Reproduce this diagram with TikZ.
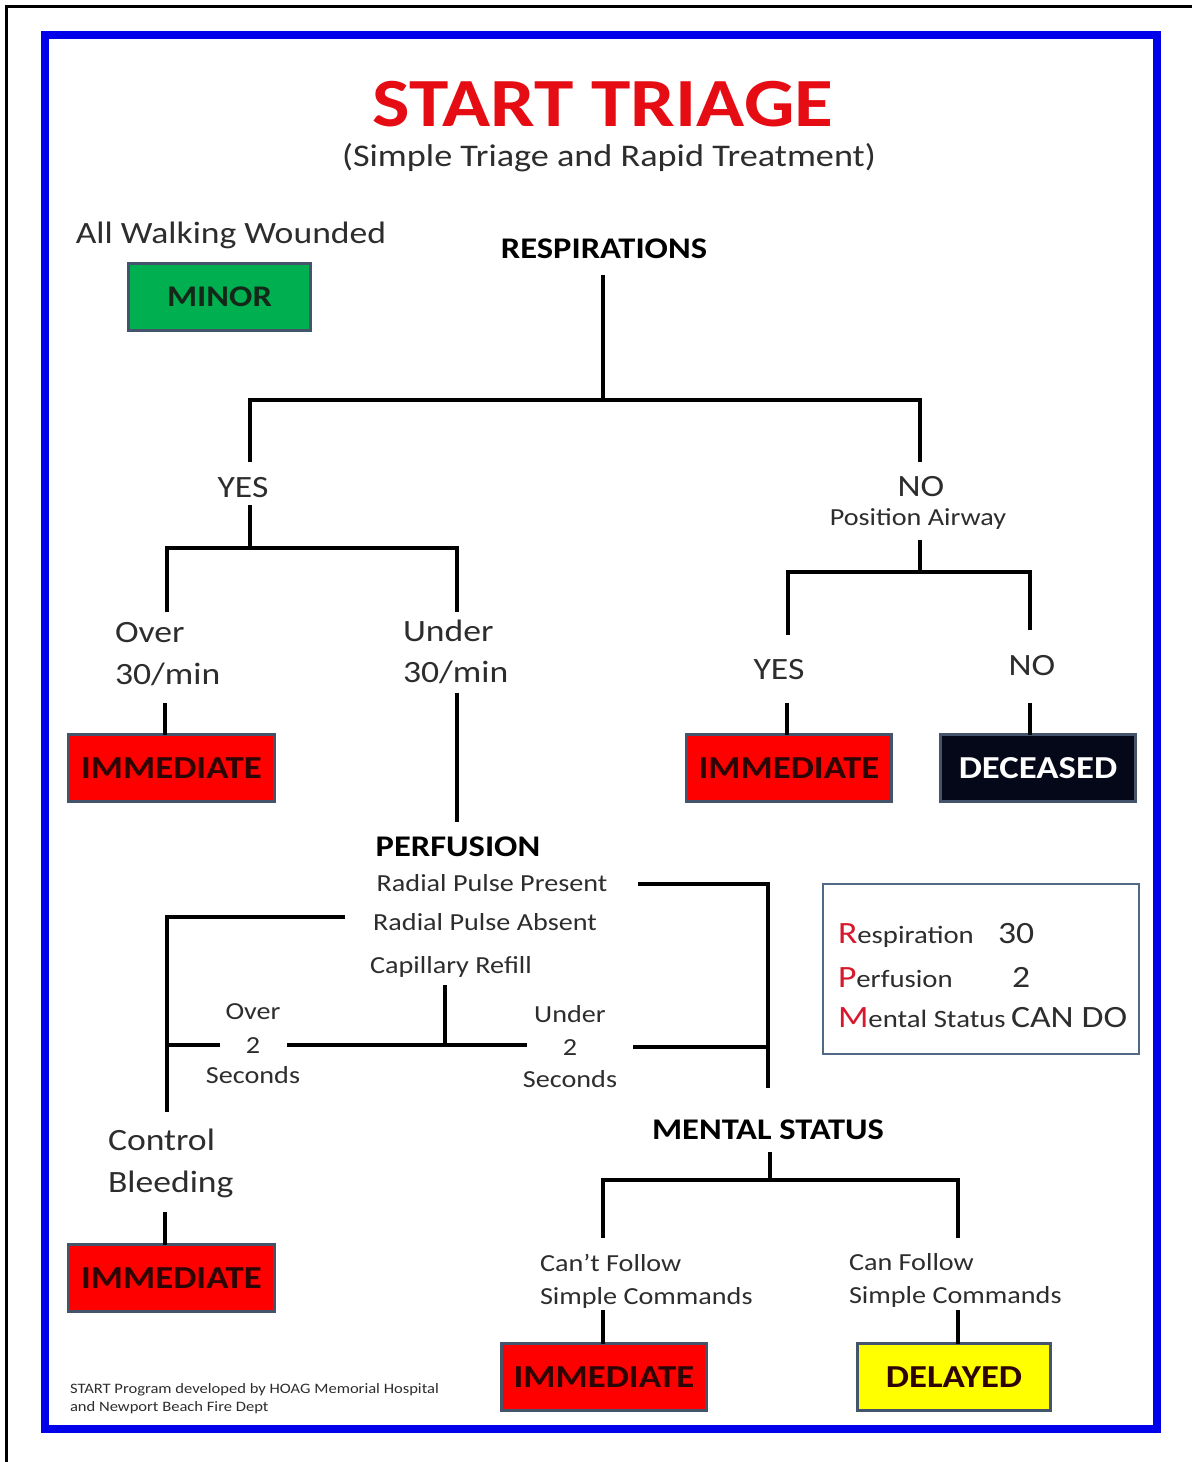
\documentclass[tikz,border=0pt]{standalone}
\usepackage{fontspec}
\setmainfont{Carlito}[FakeStretch=1.15]
\definecolor{frameblue}{RGB}{0,0,235}
\definecolor{titlered}{RGB}{230,12,20}
\definecolor{ink}{RGB}{45,45,45}
\definecolor{boxedge}{RGB}{68,84,106}
\definecolor{minorgreen}{RGB}{0,176,80}
\definecolor{minorink}{RGB}{20,40,25}
\definecolor{alertred}{RGB}{255,0,0}
\definecolor{tagink}{RGB}{45,5,5}
\definecolor{deadfill}{RGB}{5,8,25}
\definecolor{delayyellow}{RGB}{255,255,0}
\definecolor{rpmred}{RGB}{215,25,45}
\definecolor{rpmedge}{RGB}{80,105,135}
\begin{document}
\begin{tikzpicture}[x=1pt,y=-1pt,
  every node/.style={inner sep=0pt,outer sep=0pt},
  txt/.style={text=ink,font=\fontsize{31}{36}\selectfont,anchor=base},
  txtl/.style={txt,anchor=base west},
  small/.style={text=ink,font=\fontsize{24.5}{28}\selectfont,anchor=base},
  smalll/.style={small,anchor=base west},
  head/.style={text=black,font=\bfseries\fontsize{30}{36}\selectfont,anchor=base},
  tag/.style={draw=boxedge,line width=3pt,minimum width=#1,minimum height=67pt,
    font=\bfseries\fontsize{32}{40}\selectfont},
  branch/.style={line width=4.5pt,line join=miter},
  rpmtxt/.style={text=ink,font=\fontsize{25}{30}\selectfont,anchor=base west},
  rpmval/.style={text=ink,font=\fontsize{31}{36}\selectfont,anchor=base west}
]
\useasboundingbox (0,0) rectangle (1192,1462);
\fill[white] (0,0) rectangle (1192,1462);

% page edge and blue frame
\draw[line width=3.5pt] (6.5,1462) -- (6.5,6.5) -- (1192,6.5);
\draw[frameblue,line width=8pt] (44.5,34.5) rectangle (1157,1428.5);

% heading
\node[anchor=base,text=titlered,font=\bfseries\fontsize{69}{72}\selectfont] (title) at (603,126) {START TRIAGE};
\node[txt,font=\fontsize{31.5}{36}\selectfont] (subtitle) at (609,166) {(Simple Triage and Rapid Treatment)};

% walking wounded
\node[txt] (walk) at (231,243) {All Walking Wounded};
\node[tag=182,fill=minorgreen,text=minorink,font=\bfseries\fontsize{30}{36}\selectfont] (minor) at (219.5,297) {MINOR};

% respirations
\node[head] (resp) at (604,258) {RESPIRATIONS};
\node[txt] (yes1) at (243,497) {YES};
\node[txt] (no1) at (921,496) {NO};
\node[small] (airway) at (918,525) {Position Airway};
\node[txtl] (over1) at (115,642) {Over};
\node[txtl] (over2) at (115,684) {30/min};
\node[txtl] (under1) at (403,641) {Under};
\node[txtl] (under2) at (403,682) {30/min};
\node[txt] (yes2) at (779,679) {YES};
\node[txt] (no2) at (1032,675) {NO};

\node[tag=206,fill=alertred,text=tagink] (imm1) at (171.5,768) {IMMEDIATE};
\node[tag=205,fill=alertred,text=tagink] (imm2) at (789,768) {IMMEDIATE};
\node[tag=195,fill=deadfill,text=white,font=\bfseries\fontsize{32}{40}\selectfont] (dec) at (1038,768) {DECEASED};

% perfusion
\node[head] (perf) at (458,856) {PERFUSION};
\node[small] (present) at (492,891) {Radial Pulse Present};
\node[small] (absent) at (485,930) {Radial Pulse Absent};
\node[small] (cap) at (451,973) {Capillary Refill};
\node[small] (overa) at (253,1019) {Over};
\node[small] (overb) at (253,1053) {2};
\node[small] (overc) at (253,1083) {Seconds};
\node[small] (undera) at (570,1022) {Under};
\node[small] (underb) at (570,1055) {2};
\node[small] (underc) at (570,1087) {Seconds};
\node[txtl] (bleed1) at (108,1150) {Control};
\node[txtl] (bleed2) at (108,1192) {Bleeding};
\node[tag=206,fill=alertred,text=tagink] (imm3) at (171.5,1278) {IMMEDIATE};

% mental status
\node[head] (ms) at (768,1139) {MENTAL STATUS};
\node[smalll] (cant1) at (540,1271) {Can’t Follow};
\node[smalll] (cant2) at (540,1304) {Simple Commands};
\node[smalll] (can1) at (849,1270) {Can Follow};
\node[smalll] (can2) at (849,1303) {Simple Commands};
\node[tag=205,fill=alertred,text=tagink] (imm4) at (604,1377) {IMMEDIATE};
\node[tag=193,fill=delayyellow,text=tagink,font=\bfseries\fontsize{32}{40}\selectfont] (delayed) at (954,1377) {DELAYED};

% RPM reminder
\node[draw=rpmedge,line width=2.5pt,minimum width=316pt,minimum height=170pt] (rpm) at (981,969) {};
\node[rpmtxt] (rpmr) at (838,943) {\textcolor{rpmred}{\fontsize{31}{36}\selectfont R}espiration};
\node[rpmval] (rpmrv) at (998,943) {30};
\node[rpmtxt] (rpmp) at (838,987) {\textcolor{rpmred}{\fontsize{31}{36}\selectfont P}erfusion};
\node[rpmval] (rpmpv) at (1012,987) {2};
\node[rpmtxt] (rpmm) at (838,1027) {\textcolor{rpmred}{\fontsize{31}{36}\selectfont M}ental Status};
\node[rpmval] (rpmmv) at (1011,1027) {CAN DO};

% credit
\node[anchor=base west,text=ink,font=\fontsize{14.4}{16}\selectfont] (credit1) at (70,1393) {START Program developed by HOAG Memorial Hospital};
\node[anchor=base west,text=ink,font=\fontsize{14.4}{16}\selectfont] (credit2) at (70,1411) {and Newport Beach Fire Dept};

% line ends of the decision tree
\coordinate (respout) at (603,275);
\coordinate (rj) at (603,400);
\coordinate (yesin) at (250,462);
\coordinate (noin) at (920,462);
\coordinate (yesout) at (250,505);
\coordinate (yj) at (250,548);
\coordinate (overin) at (167,612);
\coordinate (underin) at (457,612);
\coordinate (overout) at (165,703);
\coordinate (underout) at (457,693);
\coordinate (perfin) at (457,822);
\coordinate (noout) at (920,540);
\coordinate (nj) at (920,572);
\coordinate (yes2in) at (788,635);
\coordinate (no2in) at (1030,630);
\coordinate (yes2out) at (787,703);
\coordinate (no2out) at (1030,703);
\coordinate (presentout) at (638,884);
\coordinate (msin) at (768,1088);
\coordinate (absentout) at (345,917);
\coordinate (bleedin) at (167,1112);
\coordinate (overtwoin) at (220,1045);
\coordinate (overtwoout) at (287,1045);
\coordinate (undertwoin) at (527,1045);
\coordinate (capout) at (445,985);
\coordinate (undertwoout) at (633,1047);
\coordinate (bleedout) at (165,1212);
\coordinate (msout) at (770,1152);
\coordinate (msj) at (770,1180);
\coordinate (cantin) at (603,1238);
\coordinate (canin) at (958,1238);
\coordinate (cantout) at (603,1310);
\coordinate (canout) at (958,1310);

% respirations branches
\draw[branch] (respout) -- (rj);
\draw[branch] (yesin) |- (rj) -| (noin);
\draw[branch] (yesout) -- (yj);
\draw[branch] (overin) |- (yj) -| (underin);
\draw[branch] (overout) -- (overout |- imm1.north);
\draw[branch] (underout) -- (perfin);
\draw[branch] (noout) -- (nj);
\draw[branch] (yes2in) |- (nj) -| (no2in);
\draw[branch] (yes2out) -- (yes2out |- imm2.north);
\draw[branch] (no2out) -- (no2out |- dec.north);

% perfusion branches
\draw[branch] (presentout) -| (msin);
\draw[branch] (absentout) -| (bleedin);
\draw[branch] (overtwoin -| bleedin) -- (overtwoin);
\draw[branch] (overtwoout) -- (undertwoin);
\draw[branch] (capout) -- (capout |- undertwoin);
\draw[branch] (undertwoout) -- (undertwoout -| msin);
\draw[branch] (bleedout) -- (bleedout |- imm3.north);

% mental status branches
\draw[branch] (msout) -- (msj);
\draw[branch] (cantin) |- (msj) -| (canin);
\draw[branch] (cantout) -- (cantout |- imm4.north);
\draw[branch] (canout) -- (canout |- delayed.north);
\end{tikzpicture}
\end{document}
